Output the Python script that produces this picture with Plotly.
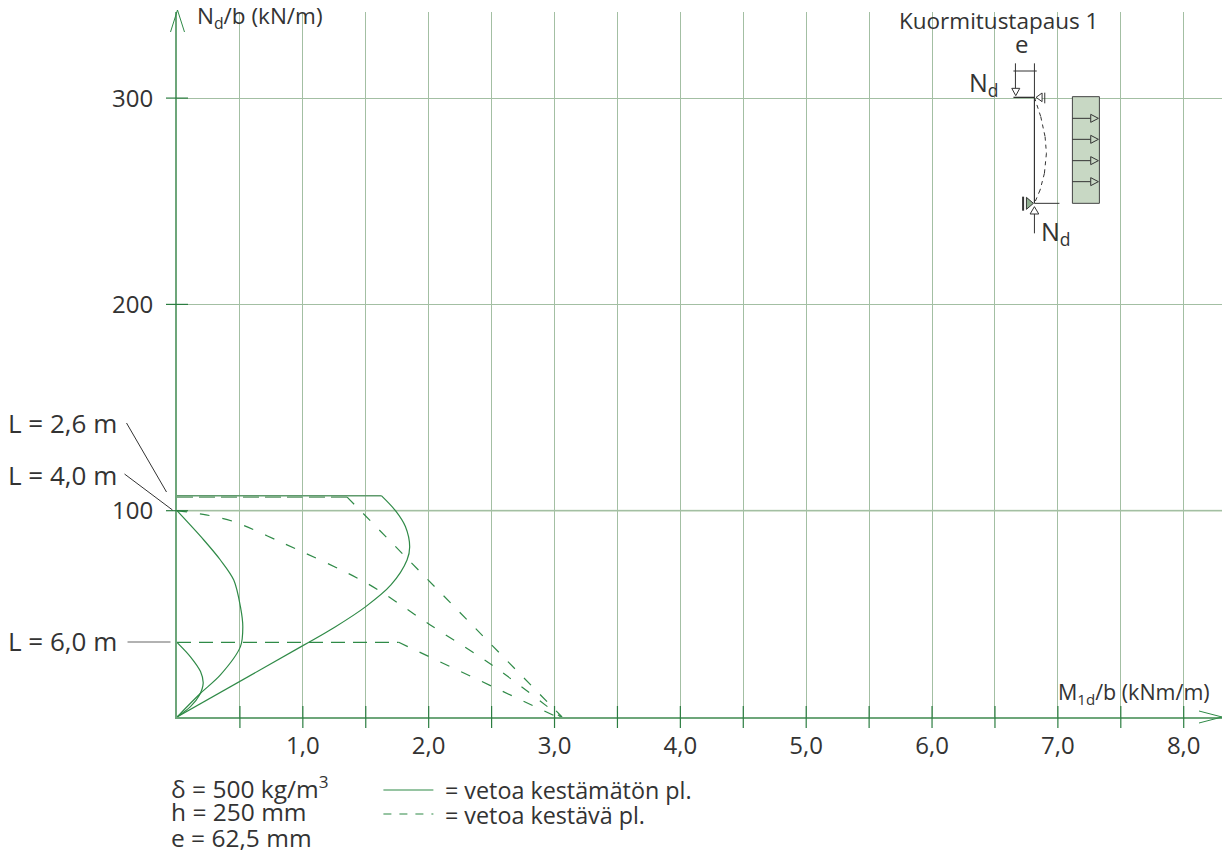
import plotly.graph_objects as go

# ---- data (kNm/m, kN/m) ----
x_ticks = [0.5, 1.0, 1.5, 2.0, 2.5, 3.0, 3.5, 4.0, 4.5, 5.0, 5.5, 6.0, 6.5, 7.0, 7.5, 8.0]
x_labels = ["", "1,0", "", "2,0", "", "3,0", "", "4,0", "", "5,0", "", "6,0", "", "7,0", "", "8,0"]
y_ticks = [100, 200, 300]

# solid: tension-free
s26_line_x = [0, 1.0]
s26_line_y = [0, 34.6]
s26_x = [1.0, 1.25, 1.5, 1.70, 1.828, 1.849, 1.815, 1.736, 1.624]
s26_y = [34.6, 43.4, 53.5, 64.0, 76.1, 82.5, 92.3, 100, 107.3]
s26top_x = [0, 1.624]
s26top_y = [107.3, 107.3]
s40_x = [0, 0.187, 0.345, 0.504, 0.523, 0.504, 0.451, 0.345, 0.213, 0]
s40_y = [0, 11.5, 20.4, 34.1, 43.8, 53.5, 66.4, 76.1, 85.8, 100]
s60_x = [0, 0.107, 0.179, 0.208, 0.187, 0.107, 0]
s60_y = [0, 5, 10.7, 16.3, 22, 29.2, 36.2]

# dashed: tension-resisting
d26top_x = [0, 1.352]
d26top_y = [106.6, 106.6]
d26_x = [1.352, 3.06]
d26_y = [106.6, 0]
d40_x = [0, 0.23, 0.451, 0.835, 1.51, 2.013, 2.503, 3.05]
d40_y = [100, 98, 94.7, 84.5, 64.8, 44.6, 25.2, 0]
d60top_x = [0, 1.762]
d60top_y = [36.2, 36.2]
d60_x = [1.762, 3.02]
d60_y = [36.2, 0]

FONT = "Open Sans"
FS = 23
TXT = "#333333"
GREEN = "#2f8a47"
GRID = "#a3bfa3"
W, H = 1231, 853
L, R, T, B = 176.5, 1222, 12, 717
PX_X, PX_Y = 125.9, 2.063

fig = go.Figure()

def curve(xs, ys, smooth=False, dash=None, color=GREEN, width=1.2):
    fig.add_trace(go.Scatter(x=xs, y=ys, mode="lines", showlegend=False, hoverinfo="skip", cliponaxis=False,
                             line=dict(color=color, width=width, dash=dash,
                                       shape="spline" if smooth else "linear", smoothing=0.9)))

curve(s26_line_x, s26_line_y)
curve(s26_x, s26_y, smooth=True)
curve(s26top_x, s26top_y, color="#5f9a6c", width=1.5)
curve(s40_x, s40_y, smooth=True)
curve(s60_x, s60_y, smooth=True)
curve(d26top_x, d26top_y, dash="16px,6px", color="#7fae88", width=2)
curve(d26_x, d26_y, dash="10px,13px")
curve(d40_x, d40_y, smooth=True, dash="10px,13px")
curve(d60top_x, d60top_y, dash="14px,8px")
curve(d60_x, d60_y, dash="10px,13px")

shapes = []
def seg(x0, y0, x1, y1, color="#333333", width=1, dash=None):
    shapes.append(dict(type="line", xref="paper", yref="paper",
                       x0=(x0 - L) / (R - L), x1=(x1 - L) / (R - L),
                       y0=(B - y0) / (B - T), y1=(B - y1) / (B - T),
                       line=dict(color=color, width=width, dash=dash)))

def poly(pts, fill="white", color="#333333", width=1):
    p = ""
    for i, (a, b) in enumerate(pts):
        p += ("M" if i == 0 else "L") + f"{(a - L) / (R - L):.5f},{(B - b) / (B - T):.5f} "
    shapes.append(dict(type="path", xref="paper", yref="paper", path=p + "Z",
                       fillcolor=fill, line=dict(color=color, width=width)))

# lighter, wider grid line at 100
shapes.append(dict(type="line", xref="paper", yref="y", x0=0, x1=1, y0=100, y1=100,
                   layer="below", line=dict(color="#c6d9c2", width=2)))

# axis ticks crossing the axes
for v in x_ticks:
    shapes.append(dict(type="line", xref="x", yref="paper", x0=v, x1=v,
                       ysizemode="pixel", yanchor=0, y0=-11, y1=11, line=dict(color="#2b7d40", width=1.2)))
for v in y_ticks:
    shapes.append(dict(type="line", xref="paper", yref="y", y0=v, y1=v,
                       xsizemode="pixel", xanchor=0, x0=-11, x1=11, line=dict(color="#2b7d40", width=1.2)))

# axis arrows
seg(170, 32, 177, 10, GREEN, 1); seg(184, 32, 177, 10, GREEN, 1)
seg(1199, 711, 1222, 717, GREEN, 1); seg(1199, 723, 1222, 717, GREEN, 1)

# leaders
seg(126, 423, 166, 492); seg(124, 474, 172, 510); seg(127, 642, 170, 642, "#666666", 1.2)

# legend samples
seg(383, 790, 433, 790, GREEN, 1.2)
seg(383, 814, 433, 814, GREEN, 1.2, "8px,8px")

# inset diagram
ZX = lambda v: 950 + v / 3
ZY = lambda v: v / 3
shapes.append(dict(type="rect", xref="paper", yref="paper",
                   x0=(ZX(367) - L) / (R - L), x1=(ZX(448) - L) / (R - L),
                   y0=(B - ZY(610)) / (B - T), y1=(B - ZY(290)) / (B - T),
                   fillcolor="#c8d8c4", line=dict(color="#444444", width=1)))
for zy in [355, 418, 482, 545]:
    seg(ZX(367), ZY(zy), ZX(422), ZY(zy))
    poly([(ZX(422), ZY(zy - 12)), (ZX(445), ZY(zy)), (ZX(422), ZY(zy + 12))], fill="#c8d8c4")
seg(ZX(253), ZY(292), ZX(253), ZY(610), "#333333", 1.2)
seg(ZX(253), ZY(610), ZX(328), ZY(610))
seg(ZX(190), ZY(292), ZX(253), ZY(292), "#222222", 1.2)
seg(ZX(196), ZY(190), ZX(196), ZY(265)); seg(ZX(253), ZY(190), ZX(253), ZY(292))
seg(ZX(190), ZY(213), ZX(260), ZY(213))
poly([(ZX(185), ZY(265)), (ZX(209), ZY(265)), (ZX(197), ZY(287))])
poly([(ZX(258), ZY(292)), (ZX(276), ZY(279)), (ZX(276), ZY(305))])
seg(ZX(284), ZY(278), ZX(284), ZY(310))
poly([(ZX(250), ZY(610)), (ZX(229), ZY(592)), (ZX(229), ZY(628))], fill="#8fae8f")
seg(ZX(219), ZY(590), ZX(219), ZY(632), "#333333", 2)
poly([(ZX(253), ZY(620)), (ZX(240), ZY(642)), (ZX(266), ZY(642))])
seg(ZX(253), ZY(642), ZX(253), ZY(700))
bow = [(253, 292), (272, 350), (285, 410), (289, 460), (283, 520), (270, 570), (253, 610)]
for (a, b), (c, d) in zip(bow[:-1], bow[1:]):
    seg(ZX(a), ZY(b), ZX(c), ZY(d), "#333333", 1, "4px,4px")

def label(x, y, text, anchor="left", size=FS):
    dx = {"left": -4, "right": 4, "center": 0}[anchor]
    return dict(xref="paper", yref="paper", x=(x + dx - L) / (R - L), y=(B - y) / (B - T), text=text,
                showarrow=False, xanchor=anchor, yanchor="middle", align="left",
                font=dict(family=FONT, size=size, color=TXT))

annotations = [
    label(199, 17, "N<sub>d</sub>/b (kN/m)", size=22.5),
    label(1096, 20, "Kuormitustapaus 1", "right", size=22.5),
    label(1021, 44, "e", "center", size=24),
    label(971, 83, "N<sub>d</sub>", size=25),
    label(1043, 232, "N<sub>d</sub>", size=25),
    label(1208, 693, "M<sub>1d</sub>/b (kNm/m)", "right", size=21.5),
    label(9, 423, "L = 2,6 m", size=26),
    label(9, 475, "L = 4,0 m", size=26),
    label(9, 641, "L = 6,0 m", size=26),
    label(172, 787, "δ = 500 kg/m<sup>3</sup>", size=24.5),
    label(172, 811, "h = 250 mm", size=24.5),
    label(172, 837, "e = 62,5 mm", size=24.5),
    label(447, 790, "= vetoa kestämätön pl.", size=23.3),
    label(447, 815, "= vetoa kestävä pl.", size=23.3),
]

fig.update_layout(
    width=W, height=H, autosize=False, paper_bgcolor="white", plot_bgcolor="white",
    margin=dict(l=L, r=W - R, t=T, b=H - B, pad=0),
    shapes=shapes, annotations=annotations, showlegend=False,
    font=dict(family=FONT, size=24, color=TXT),
    xaxis=dict(range=[0, (R - L) / PX_X], tickmode="array", tickvals=x_ticks, ticktext=x_labels,
               showgrid=True, gridcolor=GRID, gridwidth=1, zeroline=False,
               showline=True, linecolor="#6da67a", linewidth=2,
               ticks="outside", ticklen=6, tickcolor="rgba(0,0,0,0)"),
    yaxis=dict(range=[0, (B - T) / PX_Y], tickmode="array", tickvals=y_ticks, ticktext=[str(v) for v in y_ticks],
               showgrid=True, gridcolor=GRID, gridwidth=1, zeroline=False,
               showline=True, linecolor="#6da67a", linewidth=2,
               ticks="outside", ticklen=17, tickcolor="rgba(0,0,0,0)"),
)

fig.write_html("out.html", config={"displayModeBar": False},
               post_script="document.body.style.margin='0';document.documentElement.style.overflow='hidden';")
